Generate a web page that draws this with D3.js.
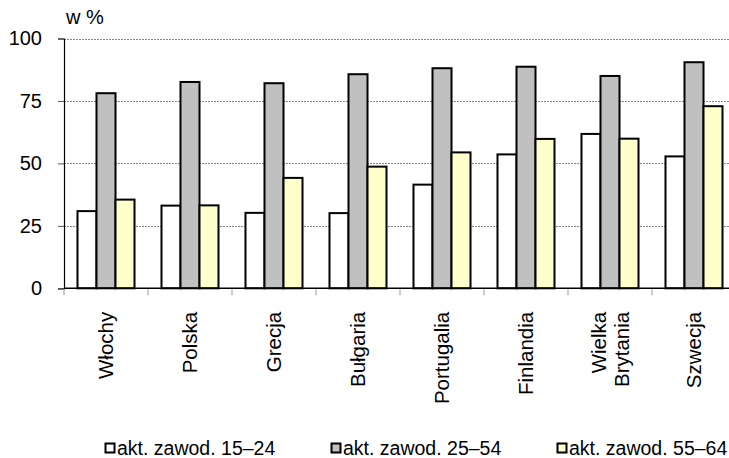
<!DOCTYPE html>
<html>
<head>
<meta charset="utf-8">
<script src="https://cdn.jsdelivr.net/npm/d3@7/dist/d3.min.js"></script>
<style>
  body { margin: 0; background: #fff; }
  text { font-family: "Liberation Sans", Arial, sans-serif; fill: #000; }
</style>
</head>
<body>
<div id="chart"></div>
<script>
const categories = ['Włochy', 'Polska', 'Grecja', 'Bułgaria', 'Portugalia', 'Finlandia', 'Wielka Brytania', 'Szwecja'];
const series = ['akt. zawod. 15–24', 'akt. zawod. 25–54', 'akt. zawod. 55–64'];
const young = [30.9, 33.1, 30.2, 30.1, 41.5, 53.6, 61.8, 52.8];
const prime = [78.1, 82.6, 82.1, 85.7, 88.1, 88.7, 85.0, 90.5];
const older = [35.5, 33.2, 44.2, 48.7, 54.4, 59.8, 59.9, 72.9];
const yTicks = [0, 25, 50, 75, 100];
const colors = ['#ffffff', '#c0c0c0', '#ffffcc'];

const W = 729, H = 458;
const margin = { top: 38.5, left: 64, bottom: 170 };
const plotRight = 736;
const values = [young, prime, older];

const svg = d3.select('#chart').append('svg')
    .attr('width', W)
    .attr('height', H);

const y = d3.scaleLinear().domain([0, 100]).range([H - margin.bottom + 0.3, margin.top]);
const x = d3.scaleBand().domain(categories).range([margin.left, plotRight]).padding(0);
const x1 = d3.scaleBand().domain(series).range([0, x.bandwidth()]).paddingInner(0).paddingOuter(0.71);

// grid lines
svg.append('g')
  .selectAll('line')
  .data(yTicks.filter(d => d > 0))
  .join('line')
    .attr('x1', margin.left)
    .attr('x2', plotRight)
    .attr('y1', d => Math.round(y(d)) + 0.5)
    .attr('y2', d => Math.round(y(d)) + 0.5)
    .attr('stroke', '#888')
    .attr('stroke-dasharray', '2,1');

// bars
series.forEach((s, si) => {
  svg.append('g')
    .selectAll('rect')
    .data(categories.map((c, i) => ({ c, v: values[si][i] })))
    .join('rect')
      .attr('x', d => x(d.c) + x1(s))
      .attr('y', d => y(d.v))
      .attr('width', x1.bandwidth())
      .attr('height', d => y(0) - y(d.v))
      .attr('fill', colors[si])
      .attr('stroke', '#000')
      .attr('stroke-width', 2);
});

// y axis
const yAxis = svg.append('g')
    .attr('transform', `translate(${margin.left},0)`)
    .call(d3.axisLeft(y).tickValues(yTicks).tickSize(6).tickPadding(16));
yAxis.select('.domain').attr('stroke', '#000').attr('stroke-width', 1.2);
yAxis.selectAll('.tick line').attr('stroke', '#555');
yAxis.selectAll('.tick text')
    .style('font-size', '20px')
    .style('font-family', '"Liberation Sans", Arial, sans-serif');

// x axis
const xAxis = svg.append('g')
    .attr('transform', `translate(0,${y(0)})`);
xAxis.append('line')
    .attr('x1', margin.left)
    .attr('x2', plotRight)
    .attr('stroke', '#000')
    .attr('stroke-width', 1.5);
xAxis.selectAll('.sep')
  .data(categories)
  .join('line')
    .attr('class', 'sep')
    .attr('x1', d => x(d))
    .attr('x2', d => x(d))
    .attr('y1', 1)
    .attr('y2', 7)
    .attr('stroke', '#999');

// category labels, rotated
categories.forEach(c => {
  const words = c.split(' ');
  const cx = x(c) + x.bandwidth() / 2;
  const t = svg.append('text')
      .attr('transform', `translate(${cx + 1},${y(0) + 23.5}) rotate(-90)`)
      .attr('text-anchor', 'end')
      .style('font-size', '20.5px');
  words.forEach((w, i) => {
    t.append('tspan')
        .attr('x', 0)
        .attr('y', (i - (words.length - 1) / 2) * 23)
        .attr('dy', '0.3em')
        .text(w);
  });
});

// unit label
svg.append('text')
    .attr('x', 66)
    .attr('y', 24)
    .style('font-size', '20px')
    .text('w %');

// legend
const legendX = [105, 331, 557];
series.forEach((s, i) => {
  svg.append('rect')
      .attr('x', legendX[i] + 0.5)
      .attr('y', 443.5)
      .attr('width', 9)
      .attr('height', 9)
      .attr('fill', colors[i])
      .attr('stroke', '#000')
      .attr('stroke-width', 2);
  svg.append('text')
      .attr('x', legendX[i] + 12)
      .attr('y', 455)
      .style('font-size', '19.5px')
      .text(s);
});
</script>
</body>
</html>
